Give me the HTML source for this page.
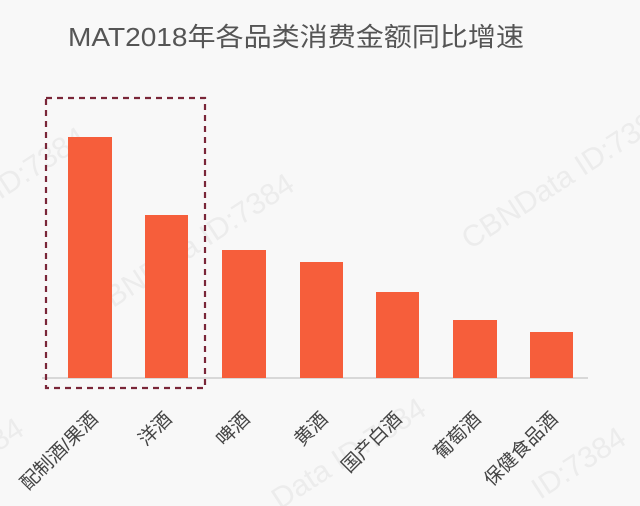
<!DOCTYPE html>
<html><head><meta charset="utf-8"><style>
html,body{margin:0;padding:0;background:#f8f8f8;}
svg{display:block;}
text{font-family:"Liberation Sans","Noto Sans CJK SC",sans-serif;}
</style></head><body>
<svg width="640" height="506" viewBox="0 0 640 506" xmlns="http://www.w3.org/2000/svg">
<rect width="640" height="506" fill="#f8f8f8"/>
<g fill="#ececec" font-size="30">
<text transform="translate(95,320) rotate(-33)">CBNData ID:7384</text>
<text transform="translate(0,200) rotate(-33)">ID:7384</text>
<text transform="translate(470,250) rotate(-33)">CBNData ID:7384</text>
<text transform="translate(280,510) rotate(-33)">Data ID:7384</text>
<text transform="translate(540,500) rotate(-33)">ID:7384</text>
<text transform="translate(-30,470) rotate(-33)">7384</text>
</g>
<text x="68" y="46" font-size="26" fill="#555" textLength="456" lengthAdjust="spacingAndGlyphs">MAT2018年各品类消费金额同比增速</text>
<line x1="42" y1="378" x2="588" y2="378" stroke="#d8d8d8" stroke-width="2"/>
<g fill="#f65e3b">
<rect x="68" y="137" width="44" height="241"/>
<rect x="145" y="215" width="43" height="163"/>
<rect x="222" y="250" width="44" height="128"/>
<rect x="300" y="262" width="43" height="116"/>
<rect x="376" y="292" width="43" height="86"/>
<rect x="453" y="320" width="44" height="58"/>
<rect x="530" y="332" width="43" height="46"/>
</g>
<rect x="46" y="98" width="159" height="290" fill="none" stroke="#7a2638" stroke-width="2.2" stroke-dasharray="6,5"/>
<g font-size="19" fill="#444" text-anchor="end">
<text transform="translate(99,420) rotate(-45)">配制酒/果酒</text>
<text transform="translate(173,420) rotate(-45)">洋酒</text>
<text transform="translate(251,420) rotate(-45)">啤酒</text>
<text transform="translate(329,420) rotate(-45)">黄酒</text>
<text transform="translate(403,420) rotate(-45)">国产白酒</text>
<text transform="translate(482,420) rotate(-45)">葡萄酒</text>
<text transform="translate(559,420) rotate(-45)">保健食品酒</text>
</g>
</svg>
</body></html>
